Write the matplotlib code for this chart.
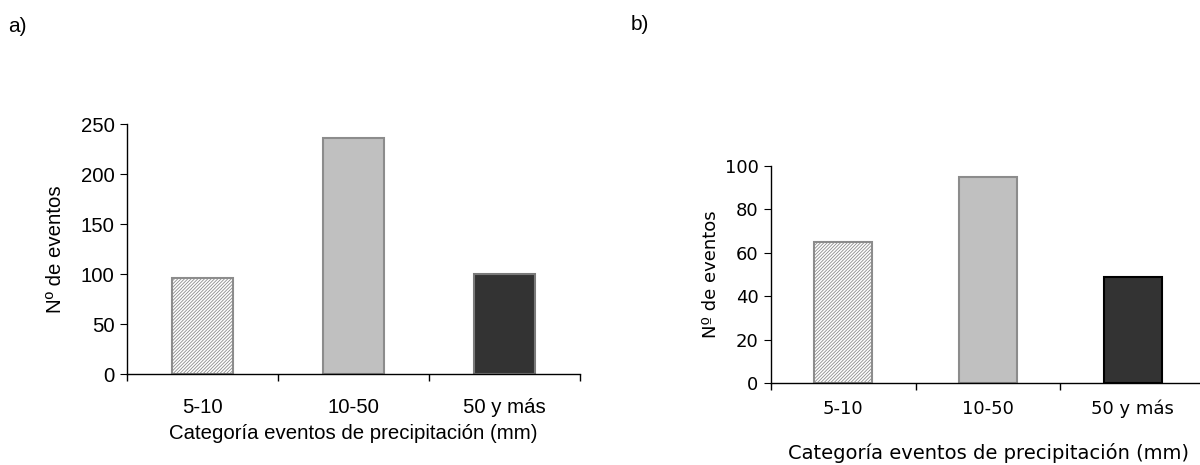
import matplotlib
matplotlib.use("Agg")
import matplotlib.pyplot as plt

plt.rcParams['font.family'] = ['Liberation Sans', 'DejaVu Sans']
plt.rcParams['hatch.linewidth'] = 0.6

categories = ["5-10", "10-50", "50 y más"]
values_a = [96, 236, 100]
values_b = [65, 95, 49]
yticks_a = [0, 50, 100, 150, 200, 250]
yticks_b = [0, 20, 40, 60, 80, 100]
xlabel = "Categoría eventos de precipitación (mm)"
ylabel = "Nº de eventos"

fig = plt.figure(figsize=(12, 4.65), dpi=100)

def draw(ax, values, yticks, edge3, fs, family, pad):
    x = [i + 0.5 for i in range(len(values))]
    b = ax.bar(x, values, width=0.4, zorder=2)
    b[0].set_facecolor("white"); b[0].set_edgecolor("#8c8c8c"); b[0].set_hatch("//////////")
    b[1].set_facecolor("#c0c0c0"); b[1].set_edgecolor("#8c8c8c")
    b[2].set_facecolor("#333333"); b[2].set_edgecolor(edge3)
    for r in b:
        r.set_linewidth(1.5)
    ax.set_xlim(0, 3)
    ax.set_ylim(0, yticks[-1])
    ax.set_yticks(yticks)
    ax.set_yticklabels([str(v) for v in yticks], fontsize=fs, family=family)
    ax.set_xticks([0, 1, 2, 3])
    ax.set_xticklabels([])
    ax.set_xticks(x, minor=True)
    ax.set_xticklabels(categories, minor=True, fontsize=fs, family=family)
    ax.tick_params(axis='x', which='minor', length=0, pad=pad)
    ax.tick_params(axis='x', which='major', length=5, direction='out', width=1)
    ax.tick_params(axis='y', length=5, direction='out', pad=4)
    for s in ['top', 'right']:
        ax.spines[s].set_visible(False)
    for s in ['left', 'bottom']:
        ax.spines[s].set_linewidth(1)

fam_a = ['Liberation Sans', 'DejaVu Sans']
fam_b = ['DejaVu Sans']

axa = fig.add_axes([127/1200, 1-374/465, 453/1200, 250/465])
draw(axa, values_a, yticks_a, "#7a7a7a", 14.7, fam_a, 17)
axa.set_xlabel(xlabel, fontsize=14.7, family=fam_a, labelpad=5)
axa.set_ylabel(ylabel, fontsize=14.7, family=fam_a)
axa.yaxis.set_label_coords(-0.137, 0.5)

axb = fig.add_axes([771/1200, 1-383/465, 434/1200, 217/465])
draw(axb, values_b, yticks_b, "black", 13, fam_b, 12)
axb.set_xlabel(xlabel, fontsize=14, family=fam_b, labelpad=18)
axb.set_ylabel(ylabel, fontsize=13, family=fam_b)
axb.yaxis.set_label_coords(-0.1175, 0.5)

fig.text(8/1200, 1-27/465, "a)", fontsize=15, family=fam_a, va='center')
fig.text(631/1200, 1-25/465, "b)", fontsize=15, family=fam_a, va='center')

fig.savefig("out.png", dpi=100)
